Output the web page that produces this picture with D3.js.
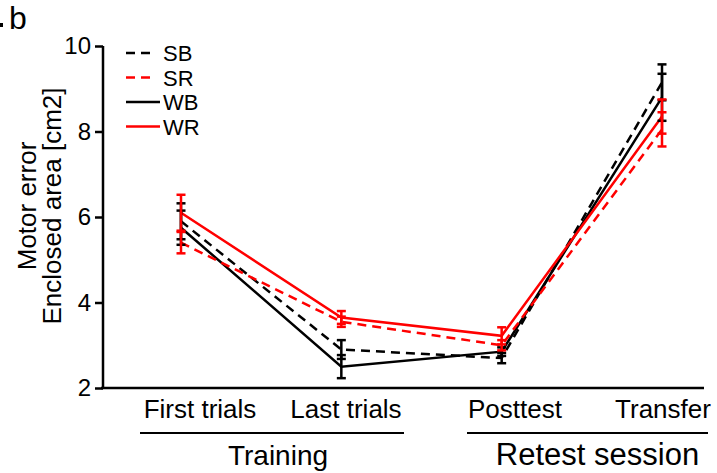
<!DOCTYPE html>
<html lang="en">
<head>
  <meta charset="UTF-8">
  <script src="https://d3js.org/d3.v7.min.js"></script>
  <style>
    body {
      margin: 0;
      background: #fff;
    }
    svg {
      display: block;
      font-family: "Liberation Sans", Arial, sans-serif;
    }
  </style>
</head>
<body>
  <script>
    const width = 717;
    const height = 473;

    // data
    const categories = ["First trials", "Last trials", "Posttest", "Transfer"];
    const seriesNames = ["SB", "SR", "WB", "WR"];
    const sbMean = [5.9, 2.9, 2.7, 9.15];
    const sbErr = [0.42, 0.22, 0.12, 0.42];
    const srMean = [5.4, 3.55, 3.0, 8.05];
    const srErr = [0.25, 0.12, 0.12, 0.4];
    const wbMean = [5.75, 2.5, 2.85, 8.8];
    const wbErr = [0.4, 0.27, 0.1, 0.55];
    const wrMean = [6.1, 3.65, 3.22, 8.35];
    const wrErr = [0.42, 0.15, 0.2, 0.4];
    const yTicks = [2, 4, 6, 8, 10];
    const groups = ["Training", "Retest session"];

    const series = [
      { name: "SB", mean: sbMean, err: sbErr, color: "#000", dash: "9,6" },
      { name: "WB", mean: wbMean, err: wbErr, color: "#000", dash: null },
      { name: "SR", mean: srMean, err: srErr, color: "#ff0000", dash: "9,6" },
      { name: "WR", mean: wrMean, err: wrErr, color: "#ff0000", dash: null }
    ];

    const svg = d3.select("body")
      .append("svg")
      .attr("width", width)
      .attr("height", height);

    const x = d3.scalePoint().domain(categories).range([181, 662]);
    const y = d3.scaleLinear().domain([2, 10]).range([388, 46]);

    // y axis
    const yAxis = svg.append("g")
      .attr("transform", "translate(103,0)")
      .call(d3.axisLeft(y).tickValues(yTicks).tickSize(8).tickPadding(4));
    yAxis.select(".domain").attr("d", `M0,${y(10)}V${y(2)}`).attr("stroke-width", 2.5);
    yAxis.selectAll(".tick line").attr("stroke-width", 2.5);
    yAxis.selectAll(".tick text")
      .attr("font-size", 24)
      .attr("font-family", "Liberation Sans, Arial, sans-serif")
      .attr("fill", "#000");

    // x axis line
    svg.append("line")
      .attr("x1", 101).attr("x2", 704)
      .attr("y1", y(2)).attr("y2", y(2))
      .attr("stroke", "#000").attr("stroke-width", 2.5);

    // category labels (positioned as in figure, not centred on points)
    const labelX = [200, 346, 515, 663];
    svg.selectAll(".cat")
      .data(categories)
      .enter()
      .append("text")
      .attr("class", "cat")
      .attr("x", (d, i) => labelX[i])
      .attr("y", 418)
      .attr("text-anchor", "middle")
      .attr("font-size", 26)
      .text(d => d);

    // group brackets
    const groupSpan = [[140, 404], [467, 708]];
    const groupSize = [28, 31];
    groups.forEach((g, i) => {
      svg.append("line")
        .attr("x1", groupSpan[i][0]).attr("x2", groupSpan[i][1])
        .attr("y1", 433).attr("y2", 433)
        .attr("stroke", "#000").attr("stroke-width", 2);
      svg.append("text")
        .attr("x", (groupSpan[i][0] + groupSpan[i][1]) / 2 + (i === 0 ? 6 : 10))
        .attr("y", 465)
        .attr("text-anchor", "middle")
        .attr("font-size", groupSize[i])
        .text(g);
    });

    // lines
    const line = d3.line()
      .x((d, i) => x(categories[i]))
      .y(d => y(d));

    series.forEach(s => {
      svg.append("path")
        .datum(s.mean)
        .attr("d", line)
        .attr("fill", "none")
        .attr("stroke", s.color)
        .attr("stroke-width", 2.5)
        .attr("stroke-dasharray", s.dash);
    });

    // error bars
    series.forEach(s => {
      const eb = svg.append("g");
      s.mean.forEach((m, i) => {
        const cx = x(categories[i]);
        const lo = y(m - s.err[i]);
        const hi = y(m + s.err[i]);
        eb.append("line")
          .attr("x1", cx).attr("x2", cx).attr("y1", lo).attr("y2", hi)
          .attr("stroke", s.color).attr("stroke-width", 2.5);
        [lo, hi].forEach(v => {
          eb.append("line")
            .attr("x1", cx - 4.5).attr("x2", cx + 4.5).attr("y1", v).attr("y2", v)
            .attr("stroke", s.color).attr("stroke-width", 2.5);
        });
      });
    });

    // legend
    const legend = svg.append("g");
    seriesNames.forEach((name, i) => {
      const s = series.find(d => d.name === name);
      const ly = 53 + i * 24.5;
      legend.append("line")
        .attr("x1", 126).attr("x2", s.dash ? 154 : 160)
        .attr("y1", ly).attr("y2", ly)
        .attr("stroke", s.color).attr("stroke-width", 2.5)
        .attr("stroke-dasharray", s.dash);
      legend.append("text")
        .attr("x", 163).attr("y", ly + 8)
        .attr("font-size", 22)
        .text(name);
    });

    // y label
    const ylab = svg.append("text")
      .attr("transform", "translate(0,206) rotate(-90)")
      .attr("text-anchor", "middle")
      .attr("font-size", 26);
    ylab.append("tspan").attr("x", 0).attr("y", 36).text("Motor error");
    ylab.append("tspan").attr("x", 0).attr("y", 61).text("Enclosed area [cm2]");

    // panel letter; the preceding dot is a clipped remnant in the original
    svg.append("rect")
      .attr("x", 0).attr("y", 23).attr("width", 3).attr("height", 4)
      .attr("fill", "#000");
    svg.append("text")
      .attr("x", 9).attr("y", 29)
      .attr("font-size", 32)
      .text("b");
  </script>
</body>
</html>
